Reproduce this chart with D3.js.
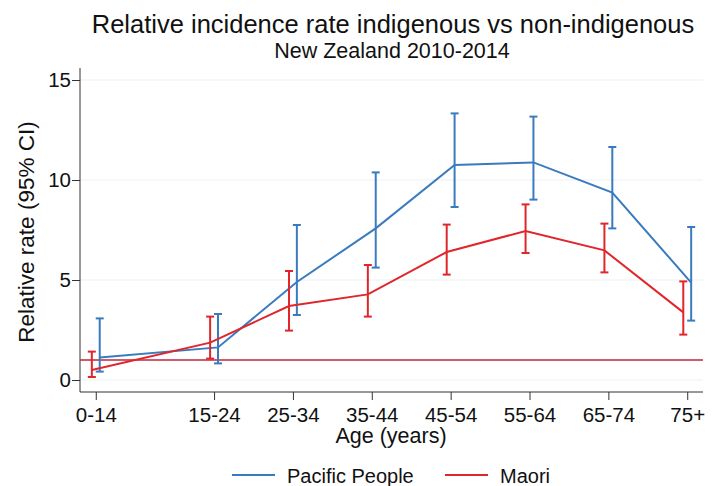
<!DOCTYPE html>
<html lang="en">
<head>
<meta charset="UTF-8">
<title>Relative incidence rate</title>
<script src="https://cdn.jsdelivr.net/npm/d3@7"></script>
<style>
    body { margin: 0; background: #fff; }
    text { font-family: Arial, "Liberation Sans", sans-serif; fill: #111; }
</style>
</head>
<body>
<script>
    // age groups and their position on the numeric age axis
    const ageGroups = ["0-14", "15-24", "25-34", "35-44", "45-54", "55-64", "65-74", "75+"];
    const agePos = [5, 20, 30, 40, 50, 60, 70, 80];

    // Pacific People: rate, lower and upper CI
    const pacificRate = [1.13, 1.63, 4.9, 7.58, 10.75, 10.88, 9.37, 4.87];
    const pacificLow  = [0.42, 0.83, 3.25, 5.62, 8.65, 9.02, 7.58, 2.97];
    const pacificHigh = [3.08, 3.3, 7.75, 10.38, 13.33, 13.17, 11.65, 7.65];

    // Maori: rate, lower and upper CI
    const maoriRate = [0.5, 1.87, 3.7, 4.28, 6.4, 7.45, 6.48, 3.38];
    const maoriLow  = [0.15, 1.07, 2.47, 3.17, 5.27, 6.35, 5.38, 2.27];
    const maoriHigh = [1.42, 3.17, 5.45, 5.75, 7.77, 8.78, 7.82, 4.93];

    const yTicks = [0, 5, 10, 15];
    const refValue = 1;

    const width = 720, height = 486;
    const plotLeft = 80, plotRight = 703, plotTop = 68, plotBottom = 392;

    const svg = d3.select("body").append("svg")
        .attr("width", width)
        .attr("height", height);

    const x = d3.scaleLinear().domain([3, 82]).range([plotLeft, plotRight]);
    const y = d3.scaleLinear().domain([0, 15]).range([380, 80]);

    // gridlines
    svg.append("g").selectAll("line")
        .data(yTicks)
        .enter().append("line")
        .attr("x1", plotLeft).attr("x2", plotRight)
        .attr("y1", d => y(d)).attr("y2", d => y(d))
        .attr("stroke", "#eaf2f3")
        .attr("stroke-width", 1.2);

    // axes
    const yAxis = svg.append("g")
        .attr("transform", `translate(${plotLeft},0)`)
        .call(d3.axisLeft(y).tickValues(yTicks).tickSize(8).tickPadding(1));
    yAxis.select(".domain").remove();
    yAxis.append("line")
        .attr("x1", 0).attr("x2", 0).attr("y1", plotTop).attr("y2", plotBottom)
        .attr("stroke", "#333");

    const xAxis = svg.append("g")
        .attr("transform", `translate(0,${plotBottom})`)
        .call(d3.axisBottom(x).tickValues(agePos)
            .tickFormat((d, i) => ageGroups[i]).tickSize(8).tickPadding(7));
    xAxis.select(".domain").remove();
    xAxis.append("line")
        .attr("x1", plotLeft).attr("x2", plotRight).attr("y1", 0).attr("y2", 0)
        .attr("stroke", "#333");

    svg.selectAll(".tick line").attr("stroke", "#333");
    svg.selectAll(".tick text")
        .style("font-size", "20.5px")
        .style("font-family", "Arial, 'Liberation Sans', sans-serif")
        .attr("fill", "#111");

    // reference line
    svg.append("line")
        .attr("x1", plotLeft).attr("x2", plotRight)
        .attr("y1", y(refValue)).attr("y2", y(refValue))
        .attr("stroke", "#c0253b")
        .attr("stroke-width", 1.6);

    const series = [
        { name: "Pacific People", color: "#3a7bbf", rate: pacificRate, low: pacificLow, high: pacificHigh, shift: 0.5 },
        { name: "Maori", color: "#e0262b", rate: maoriRate, low: maoriLow, high: maoriHigh, shift: -0.5 }
    ];

    const line = d3.line().x(d => x(d.a)).y(d => y(d.v));

    series.forEach(s => {
        const pts = agePos.map((a, i) => ({ a: a + s.shift, v: s.rate[i], lo: s.low[i], hi: s.high[i] }));
        const g = svg.append("g");

        g.append("path")
            .datum(pts)
            .attr("d", line)
            .attr("fill", "none")
            .attr("stroke", s.color)
            .attr("stroke-width", 2);

        const bars = g.selectAll(".bar").data(pts).enter().append("g");
        bars.append("line")
            .attr("x1", d => x(d.a)).attr("x2", d => x(d.a))
            .attr("y1", d => y(d.lo)).attr("y2", d => y(d.hi))
            .attr("stroke", s.color).attr("stroke-width", 2);
        ["lo", "hi"].forEach(k => {
            bars.append("line")
                .attr("x1", d => x(d.a) - 4).attr("x2", d => x(d.a) + 4)
                .attr("y1", d => y(d[k])).attr("y2", d => y(d[k]))
                .attr("stroke", s.color).attr("stroke-width", 2);
        });
    });

    // titles
    svg.append("text")
        .attr("x", 393).attr("y", 33)
        .attr("text-anchor", "middle")
        .style("font-size", "25.5px")
        .text("Relative incidence rate indigenous vs non-indigenous");
    svg.append("text")
        .attr("x", 392).attr("y", 58)
        .attr("text-anchor", "middle")
        .style("font-size", "21.5px")
        .text("New Zealand 2010-2014");
    svg.append("text")
        .attr("x", 391).attr("y", 443)
        .attr("text-anchor", "middle")
        .style("font-size", "21.5px")
        .text("Age (years)");
    svg.append("text")
        .attr("transform", `translate(34,${(plotTop + plotBottom) / 2 + 2}) rotate(-90)`)
        .attr("text-anchor", "middle")
        .style("font-size", "22.5px")
        .text("Relative rate (95% CI)");

    // legend
    const legendX = [232, 445];
    const legend = svg.append("g").selectAll("g")
        .data(series)
        .enter().append("g")
        .attr("transform", (d, i) => `translate(${legendX[i]},475)`);
    legend.append("line")
        .attr("x1", 0).attr("x2", 43)
        .attr("stroke", d => d.color).attr("stroke-width", 2);
    legend.append("text")
        .attr("x", 55).attr("y", 8)
        .style("font-size", "20px")
        .text(d => d.name);
</script>
</body>
</html>
